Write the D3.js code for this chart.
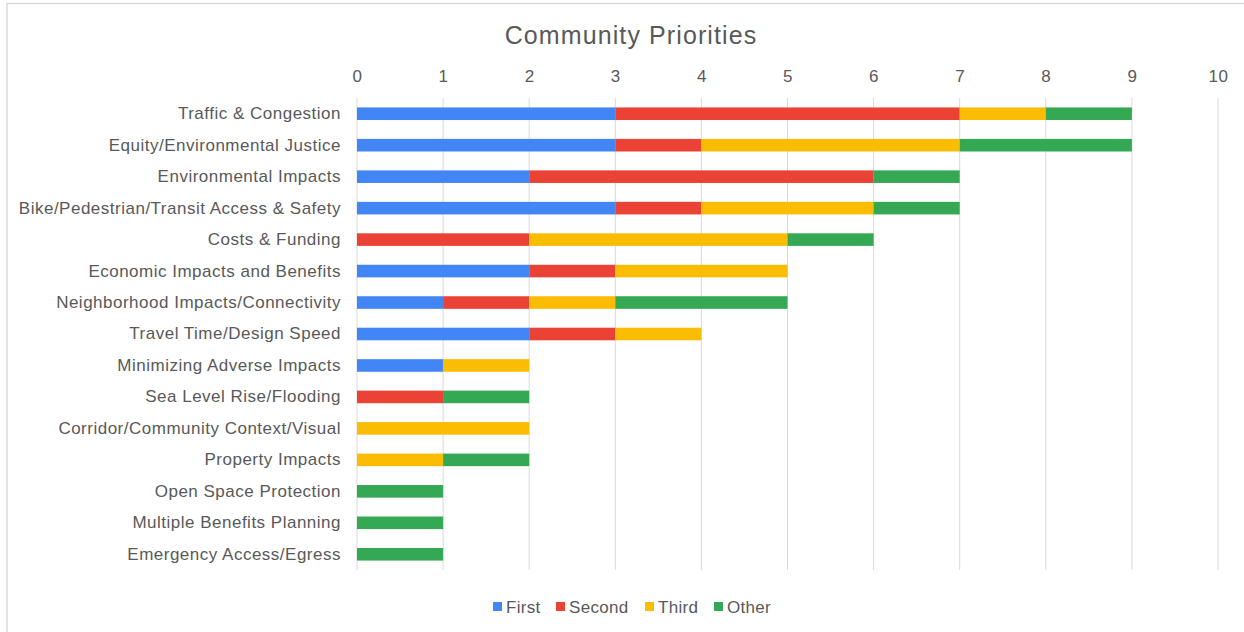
<!DOCTYPE html>
<html><head><meta charset="utf-8">
<script src="https://cdn.jsdelivr.net/npm/d3@7"></script>
<style>body{margin:0;background:#fff;} svg{display:block;font-family:"Liberation Sans",Arial,sans-serif;}</style>
</head><body>
<svg id="c" width="1244" height="632"></svg>
<script>
const categories = ["Traffic & Congestion","Equity/Environmental Justice","Environmental Impacts","Bike/Pedestrian/Transit Access & Safety","Costs & Funding","Economic Impacts and Benefits","Neighborhood Impacts/Connectivity","Travel Time/Design Speed","Minimizing Adverse Impacts","Sea Level Rise/Flooding","Corridor/Community Context/Visual","Property Impacts","Open Space Protection","Multiple Benefits Planning","Emergency Access/Egress"];
const seriesNames = ["First","Second","Third","Other"];
const first  = [3,3,2,3,0,2,1,2,1,0,0,0,0,0,0];
const second = [4,1,4,1,2,1,1,1,0,1,0,0,0,0,0];
const third  = [1,3,0,2,3,2,1,1,1,0,2,1,0,0,0];
const other  = [1,2,1,1,1,0,2,0,0,1,0,1,1,1,1];
const xTicks = [0,1,2,3,4,5,6,7,8,9,10];
const colors = ["#4285F4","#EA4335","#FBBC04","#34A853"];
const title = "Community Priorities";

const rows = categories.map((c,i)=>({cat:c, First:first[i], Second:second[i], Third:third[i], Other:other[i]}));
const stack = d3.stack().keys(seriesNames)(rows);

const svg = d3.select("#c");
svg.append("path").attr("d","M7,632 V3.5 H1244").attr("fill","none").attr("stroke","#d9d9d9").attr("stroke-width",1.5);

const x = d3.scaleLinear().domain([0,10]).range([357,1218]);
const y = d3.scaleBand().domain(categories).range([98,570]).paddingInner(0.6).paddingOuter(0.3);

svg.append("text").attr("x",631).attr("y",44).attr("text-anchor","middle")
  .attr("font-size",25).attr("letter-spacing",1.1).attr("fill","#595959").text(title);

svg.append("g").selectAll("line").data(xTicks).join("line")
  .attr("x1",d=>x(d)).attr("x2",d=>x(d)).attr("y1",98).attr("y2",570)
  .attr("stroke","#d9d9d9").attr("stroke-width",1);

const xa = svg.append("g").attr("transform","translate(0,82)")
  .call(d3.axisTop(x).tickValues(xTicks).tickSize(0).tickPadding(0).tickFormat(d3.format("d")));
xa.select(".domain").remove();
xa.selectAll("text").attr("font-size",17).attr("letter-spacing",0.5).attr("fill","#595959").attr("font-family","Liberation Sans, Arial, sans-serif");

const ya = svg.append("g").attr("transform","translate(341,0)")
  .call(d3.axisLeft(y).tickSize(0).tickPadding(0));
ya.select(".domain").remove();
ya.selectAll("text").attr("font-size",17).attr("letter-spacing",0.5).attr("fill","#595959").attr("font-family","Liberation Sans, Arial, sans-serif");

svg.append("g").selectAll("g").data(stack).join("g")
  .attr("fill",(d,i)=>colors[i])
  .selectAll("rect").data(d=>d).join("rect")
  .attr("x",d=>x(d[0])).attr("width",d=>x(d[1])-x(d[0]))
  .attr("y",d=>y(d.data.cat)).attr("height",y.bandwidth());

const legX = [493,556,645,714];
const leg = svg.append("g");
seriesNames.forEach((s,i)=>{
  leg.append("rect").attr("x",legX[i]).attr("y",602).attr("width",9).attr("height",9).attr("fill",colors[i]);
  leg.append("text").attr("x",legX[i]+13).attr("y",613).attr("font-size",17).attr("letter-spacing",0.3).attr("fill","#595959").text(s);
});
</script>
</body></html>
